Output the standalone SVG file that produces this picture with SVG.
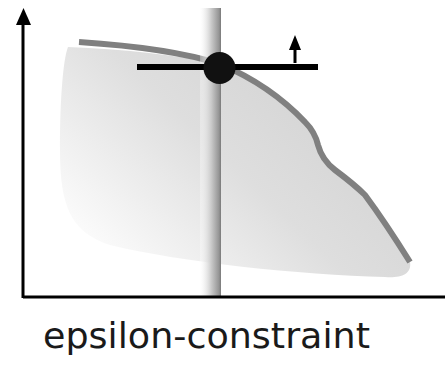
<svg xmlns="http://www.w3.org/2000/svg" width="445" height="366" viewBox="0 0 445 366">
<style>
.axis{stroke:#000;stroke-width:3;fill:none}
.front{stroke:#808080;stroke-width:6;fill:none;stroke-linejoin:round}
.cons{stroke:#000;stroke-width:6}
.label{font-family:"DejaVu Sans","Liberation Sans",sans-serif;font-size:35px;fill:#1a1a1a}
</style>
<defs>
<linearGradient id="reg" gradientUnits="userSpaceOnUse" x1="330" y1="60" x2="110" y2="290">
<stop offset="0" stop-color="#d2d2d2"/>
<stop offset="0.45" stop-color="#dedede"/>
<stop offset="1" stop-color="#ffffff"/>
</linearGradient>
<linearGradient id="band" x1="0" y1="0" x2="1" y2="0">
<stop offset="0" stop-color="#ffffff" stop-opacity="0.3"/>
<stop offset="0.55" stop-color="#c8c8c8"/>
<stop offset="0.9" stop-color="#959595"/>
<stop offset="1" stop-color="#7a7a7a"/>
</linearGradient>
</defs>
<g id="region">
<path d="M68,47 Q150,50 220,64 Q270,85 305,122 Q315,132 318,145 Q322,160 335,170 Q355,185 365,195 Q385,222 410,262 C412,275 400,278 385,277 C300,275 180,262 110,245 C70,232 60,205 60,150 C60,100 63,60 68,47 Z" fill="url(#reg)"/>
</g>
<g id="front">
<path class="front" d="M79,42 Q170,48 220,64 Q270,85 305,122 Q315,132 318,145 Q322,160 335,170 Q355,185 365,195 Q385,222 410,262"/>
</g>
<g id="band-node">
<rect x="200" y="8" width="21" height="288" fill="url(#band)"/>
</g>
<g id="axes">
<line class="axis" x1="23" y1="297" x2="445" y2="297"/>
<line class="axis" x1="23" y1="298" x2="23" y2="22"/>
<polygon points="16,25 31,25 23.5,8" fill="#000"/>
</g>
<g id="constraint">
<line class="cons" x1="137" y1="67" x2="318" y2="67"/>
<line x1="295" y1="63" x2="295" y2="48" stroke="#000" stroke-width="3"/>
<polygon points="289,50 301,50 295,35" fill="#000"/>
</g>
<g id="point">
<circle cx="219.5" cy="68" r="16" fill="#111"/>
</g>
<g id="caption">
<text class="label" x="43" y="348" textLength="327" lengthAdjust="spacingAndGlyphs">epsilon-constraint</text>
</g>
</svg>
